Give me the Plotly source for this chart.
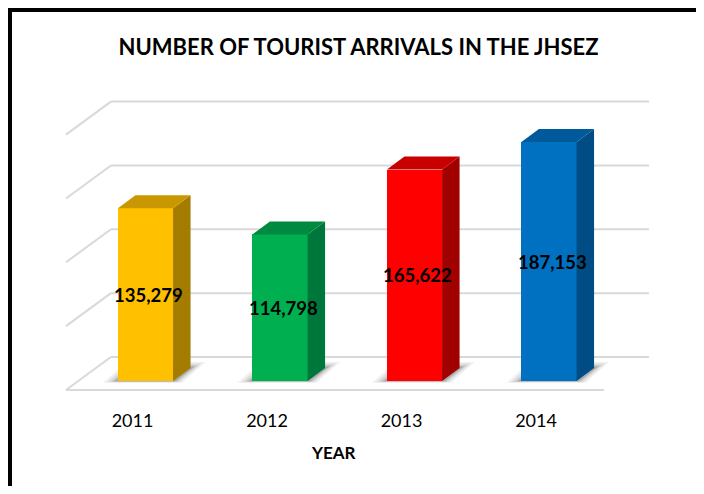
import plotly.graph_objects as go

# ---------------- data ----------------
YEARS = ["2011", "2012", "2013", "2014"]
ARRIVALS = [135279, 114798, 165622, 187153]
GRID_VALUES = [0, 50000, 100000, 150000, 200000]
TITLE = "NUMBER OF TOURIST ARRIVALS IN THE JHSEZ"
X_TITLE = "YEAR"

# ---------------- styles ----------------
FRONT = ["#FFC000", "#00B050", "#FF0000", "#0070C0"]
TOP = ["#C99700", "#008A3F", "#C80000", "#00599A"]
SIDE = ["#A37C00", "#00773A", "#A00000", "#004C85"]
GRID_COLOR = "#D9D9D9"
FONT = "Lato"

# ---------------- geometry ----------------
PAGE = 8                      # default body margin of the html page
W, H = 688, 478


def fx(px):                   # reference page pixel -> figure pixel
    return px - PAGE


L, R, T, B = fx(40), fx(662), fx(60), fx(400)          # plot area in figure pixels
PX_X0, PX_PER_CAT = fx(145.5), 134.5
PX_Y0, PX_PER_VAL = fx(381.0), 0.001277

xr = [(L - PX_X0) / PX_PER_CAT, (R - PX_X0) / PX_PER_CAT]
yr = [(PX_Y0 - B) / PX_PER_VAL, (PX_Y0 - T) / PX_PER_VAL]


def dx(px):
    return px / PX_PER_CAT


def dv(px_up):
    return px_up / PX_PER_VAL


BAR_W = 0.41
BAR_DX, BAR_DV = dx(17.5), dv(13)                 # bar depth
WALL_DX, WALL_DV = dx(32.7), dv(24)               # back wall relative to bar fronts
FLOOR_DX, FLOOR_DV = dx(-12.3), dv(-9)            # front floor edge relative to bar fronts
DEPTH_DX, DEPTH_DV = WALL_DX - FLOOR_DX, WALL_DV - FLOOR_DV
X_LEFT = -0.5 + WALL_DX                           # back-left corner
X_RIGHT = len(YEARS) - 0.5 + WALL_DX              # back-right corner

shapes = []


def path(pts):
    return "M " + " L ".join(f"{x},{y}" for x, y in pts) + " Z"


# walls & floor gridlines
for g in GRID_VALUES:
    yb = g + WALL_DV
    shapes.append(dict(type="line", xref="x", yref="y", x0=X_LEFT, x1=X_RIGHT, y0=yb, y1=yb,
                       line=dict(color=GRID_COLOR, width=2), layer="below"))
    shapes.append(dict(type="line", xref="x", yref="y", x0=X_LEFT, y0=yb,
                       x1=X_LEFT - DEPTH_DX, y1=yb - DEPTH_DV,
                       line=dict(color=GRID_COLOR, width=2), layer="below"))
shapes.append(dict(type="line", xref="x", yref="y",
                   x0=X_LEFT - DEPTH_DX, x1=X_RIGHT - DEPTH_DX,
                   y0=FLOOR_DV, y1=FLOOR_DV,
                   line=dict(color=GRID_COLOR, width=2), layer="below"))

# shadows, side and top faces
for i, v in enumerate(ARRIVALS):
    xl, xrr = i - BAR_W / 2, i + BAR_W / 2
    for e, a in [(15, 0.06), (11, 0.08), (7, 0.10), (4, 0.14)]:
        ex, ev = dx(e), dv(e * 0.4)
        shapes.append(dict(type="path", xref="x", yref="y", layer="below",
                           path=path([(xl - ex, -ev * 0.3), (xrr + ex * 0.6, -ev * 0.3),
                                      (xrr + BAR_DX + ex, BAR_DV + ev),
                                      (xl + BAR_DX - ex * 0.6, BAR_DV + ev)]),
                           fillcolor=f"rgba(0,0,0,{a})", line=dict(width=0)))
    shapes.append(dict(type="path", xref="x", yref="y", layer="above",
                       path=path([(xrr, 0), (xrr, v), (xrr + BAR_DX, v + BAR_DV),
                                  (xrr + BAR_DX, BAR_DV)]),
                       fillcolor=SIDE[i], line=dict(width=0)))
    shapes.append(dict(type="path", xref="x", yref="y", layer="above",
                       path=path([(xl, v), (xrr, v), (xrr + BAR_DX, v + BAR_DV),
                                  (xl + BAR_DX, v + BAR_DV)]),
                       fillcolor=TOP[i], line=dict(width=0)))


# outer border (paper coordinates derived from pixels): top and left edges
def px_to_paper_x(px):
    return (px - L) / (R - L)


def px_to_paper_y(py):
    return (B - py) / (B - T)


BX, BY = fx(10), fx(10)
shapes.append(dict(type="line", xref="paper", yref="paper",
                   x0=px_to_paper_x(BX - 2), x1=px_to_paper_x(W),
                   y0=px_to_paper_y(BY), y1=px_to_paper_y(BY),
                   line=dict(color="black", width=4)))
shapes.append(dict(type="line", xref="paper", yref="paper",
                   x0=px_to_paper_x(BX), x1=px_to_paper_x(BX),
                   y0=px_to_paper_y(BY - 2), y1=px_to_paper_y(H),
                   line=dict(color="black", width=4)))

fig = go.Figure()
fig.add_trace(go.Bar(
    x=list(range(len(YEARS))), y=ARRIVALS, width=BAR_W, base=0,
    marker=dict(color=FRONT, line=dict(width=0)),
    hovertext=YEARS, hoverinfo="text+y", showlegend=False,
))

annotations = []
for i, v in enumerate(ARRIVALS):
    annotations.append(dict(x=i + dx(3), y=v / 2, xref="x", yref="y", text=f"<b>{v:,}</b>",
                            showarrow=False, font=dict(family=FONT, size=18.5, color="black"),
                            xanchor="center", yanchor="middle"))
annotations.append(dict(x=px_to_paper_x(fx(333)), y=px_to_paper_y(fx(453)),
                        xref="paper", yref="paper",
                        text=f"<b>{X_TITLE}</b>", showarrow=False,
                        font=dict(family=FONT, size=17, color="black"),
                        xanchor="center", yanchor="middle"))

fig.update_layout(
    width=W, height=H,
    margin=dict(l=L, r=W - R, t=T, b=H - B, pad=0),
    paper_bgcolor="white", plot_bgcolor="white",
    title=dict(text=f"<b>{TITLE}</b>", x=fx(358.5) / W, xanchor="center",
               y=1 - fx(47) / H, yanchor="middle", yref="container",
               font=dict(family=FONT, size=22, color="black")),
    xaxis=dict(range=xr, tickvals=list(range(len(YEARS))), ticktext=YEARS,
               showgrid=False, zeroline=False, showline=False, ticks="",
               ticklabelshift=-13, ticklabelstandoff=8,
               tickfont=dict(family=FONT, size=18, color="black"), fixedrange=True),
    yaxis=dict(range=yr, visible=False, showgrid=False, zeroline=False, fixedrange=True),
    shapes=shapes, annotations=annotations,
    bargap=0,
)

fig.write_html("out.html")
